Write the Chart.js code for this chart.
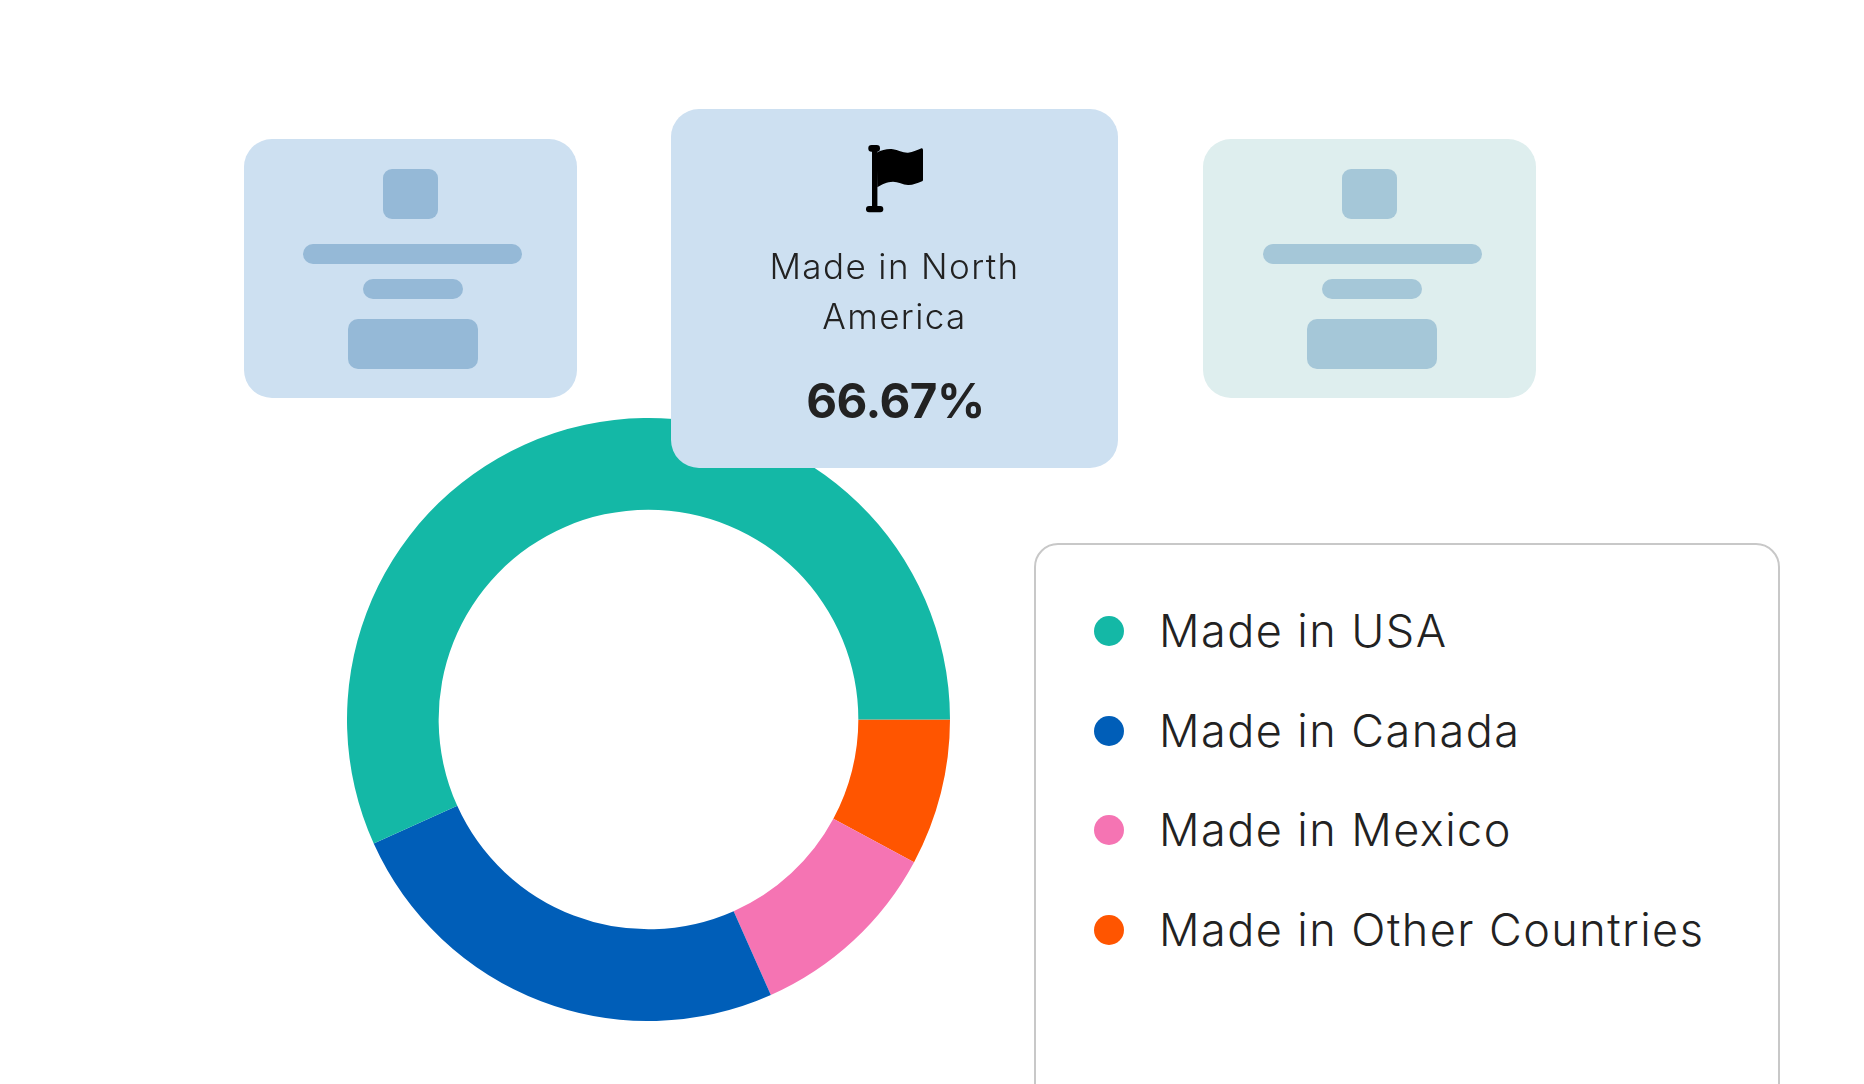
<!DOCTYPE html>
<html>
<head>
<meta charset="utf-8">
<script src="https://cdn.jsdelivr.net/npm/chart.js@4"></script>
<style>
  html, body { margin: 0; padding: 0; width: 1864px; height: 1084px; overflow: hidden; background: #fff; }
  body { position: relative; font-family: Inter, "Open Sans", sans-serif; color: #222; }
  .abs { position: absolute; }
  .card { position: absolute; background: #cde0f1; border-radius: 28px; }
  .ph { position: absolute; }
  #chart-wrap { position: absolute; left: 347px; top: 418px; width: 603px; height: 603px; }
  #legend-box { position: absolute; left: 1034px; top: 543px; width: 742px; height: 700px; border: 2px solid #c8c8c8; border-radius: 24px; box-sizing: content-box; }
  .legend-dot { position: absolute; left: 1093.5px; width: 30px; height: 30px; border-radius: 50%; }
  .legend-label { position: absolute; left: 1159px; font-size: 45px; font-weight: 300; line-height: 40px; white-space: nowrap; letter-spacing: 1.45px; }
  #focus-title { position: absolute; left: 671px; width: 447px; top: 241px; text-align: center; font-size: 35px; font-weight: 300; line-height: 50px; letter-spacing: 1.4px; }
  #focus-value { position: absolute; left: 672px; width: 447px; top: 375px; text-align: center; font-size: 47.5px; font-weight: 700; line-height: 52px; letter-spacing: -0.5px; }
</style>
</head>
<body>
<div id="chart-wrap"><canvas id="chart-donut"></canvas></div>

<div id="cards"></div>

<div class="card" style="left:671px;top:109px;width:447px;height:359px;"></div>
<svg class="abs" style="left:860px;top:140px" width="70" height="76" viewBox="860 140 70 76">
  <rect x="868.3" y="145" width="11.7" height="6.7" rx="3.3" fill="#000"/>
  <rect x="872" y="148" width="5.4" height="60" fill="#000"/>
  <rect x="866" y="206" width="17.3" height="6.3" rx="3" fill="#000"/>
  <path fill="#000" d="M876.7 152.7 C882 150 888 148.5 893 149.3 C898 150 903 153 908 152.7 C913 152.4 918 149.5 921.5 148.3 Q923 148 923 150 L923 180 Q923 181 921.5 181.5 C917 183 913 185.2 908 185 C903 184.8 898 181.7 893 181.7 C887 181.7 882 184.5 877.3 187.3 Z"/>
</svg>
<div id="focus-title">Made in North<br>America</div>
<div id="focus-value">66.67%</div>

<div id="legend-box"></div>
<div id="legend"></div>

<script>
// legend order, going counter-clockwise from 3 o'clock
const categories = ["Made in USA", "Made in Canada", "Made in Mexico", "Made in Other Countries"];
const shares = [56.75, 24.9, 10.5, 7.85];
const colors = ["#14b8a6", "#005eb8", "#f574b3", "#ff5500"];

// placeholder cards either side of the highlighted one
const sideCards = [
  { left: 243.5, bg: "#cde0f1", fg: "#95b9d7" },
  { left: 1203, bg: "#deeeee", fg: "#a5c7d8" }
];

const cardsEl = document.getElementById("cards");
sideCards.forEach(function(c) {
  const card = document.createElement("div");
  card.className = "card";
  card.style.cssText = "left:" + c.left + "px;top:139px;width:333px;height:259px;background:" + c.bg;
  cardsEl.appendChild(card);
  [
    [139, 30, 55, 50, 9],
    [59.5, 105, 219, 20, 10],
    [119, 140, 100, 20, 10],
    [104, 179.5, 130, 50, 10]
  ].forEach(function(b) {
    const ph = document.createElement("div");
    ph.className = "ph";
    ph.style.cssText = "left:" + b[0] + "px;top:" + b[1] + "px;width:" + b[2] + "px;height:" + b[3] + "px;border-radius:" + b[4] + "px;background:" + c.fg;
    card.appendChild(ph);
  });
});

const legendEl = document.getElementById("legend");
categories.forEach(function(name, i) {
  const dot = document.createElement("div");
  dot.className = "legend-dot";
  dot.style.top = (616 + i * 99.7) + "px";
  dot.style.background = colors[i];
  legendEl.appendChild(dot);
  const label = document.createElement("div");
  label.className = "legend-label";
  label.style.top = (611 + i * 99.7) + "px";
  label.textContent = name;
  legendEl.appendChild(label);
});

// the slices run clockwise in reverse legend order, starting at 3 o'clock
new Chart(document.getElementById("chart-donut").getContext("2d"), {
  type: "doughnut",
  data: {
    labels: categories.slice().reverse(),
    datasets: [{
      data: shares.slice().reverse(),
      backgroundColor: colors.slice().reverse(),
      borderWidth: 0
    }]
  },
  options: {
    responsive: true,
    maintainAspectRatio: false,
    animation: false,
    rotation: 90,
    cutout: "69.6%",
    layout: { padding: 0 },
    plugins: {
      legend: { display: false },
      tooltip: { enabled: false }
    }
  }
});
</script>
</body>
</html>
